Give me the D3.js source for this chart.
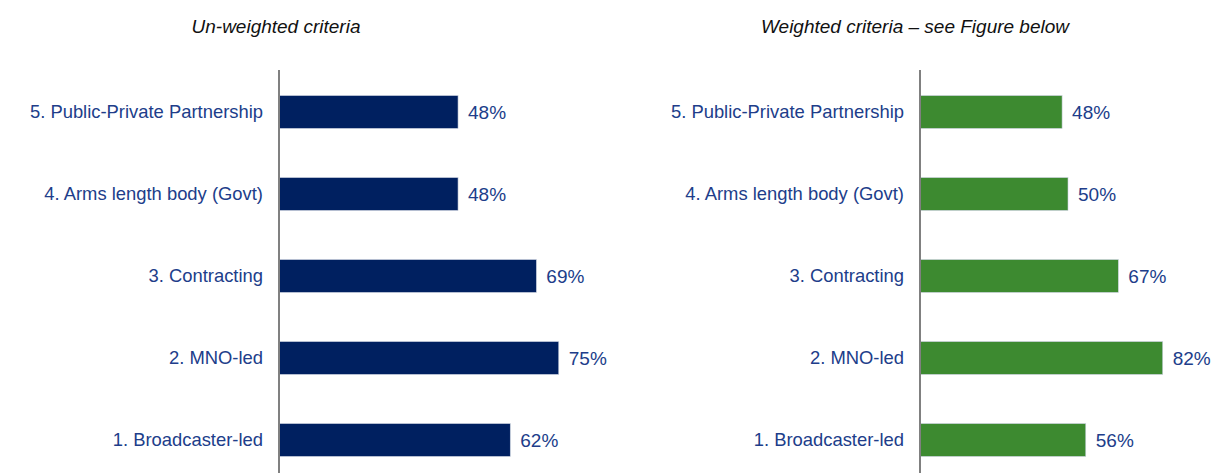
<!DOCTYPE html>
<html>
<head>
<meta charset="utf-8">
<script src="https://cdn.jsdelivr.net/npm/d3@7"></script>
<style>
  body { margin: 0; background: #fff; }
  svg { display: block; font-family: "Liberation Sans", Arial, sans-serif; }
</style>
</head>
<body>
<svg id="main_svg" width="1215" height="473"></svg>
<script>
// categories, top to bottom
var categories = ["5. Public-Private Partnership", "4. Arms length body (Govt)", "3. Contracting", "2. MNO-led", "1. Broadcaster-led"];
var unweighted = [48, 48, 69, 75, 62];
var weighted = [48, 50, 67, 82, 56];
var titles = ["Un-weighted criteria", "Weighted criteria \u2013 see Figure below"];

var svg = d3.select("#main_svg");
var labelColor = "#203d8a";

var y = d3.scaleBand()
  .domain(categories)
  .range([71, 481])
  .paddingInner(0.6)
  .paddingOuter(0.3);

function panel(axisX, pxPerPct, values, color, title, titleX) {
  var g = svg.append("g");
  var x = d3.scaleLinear().domain([0, 100]).range([axisX, axisX + pxPerPct * 100]);

  g.append("text")
    .attr("x", titleX)
    .attr("y", 33)
    .attr("text-anchor", "middle")
    .attr("font-style", "italic")
    .attr("font-size", 19)
    .attr("fill", "#111")
    .text(title);

  var data = categories.map(function(c, i) { return {cat: c, v: values[i]}; });

  g.selectAll("rect")
    .data(data)
    .enter()
    .append("rect")
    .attr("x", x(0))
    .attr("y", function(d) { return y(d.cat); })
    .attr("width", function(d) { return x(d.v) - x(0); })
    .attr("height", y.bandwidth())
    .attr("fill", color)
    .attr("stroke", "#c8d0dc")
    .attr("stroke-width", 0.6);

  g.selectAll("text.val")
    .data(data)
    .enter()
    .append("text")
    .attr("class", "val")
    .attr("x", function(d) { return x(d.v) + 10; })
    .attr("y", function(d) { return y(d.cat) + y.bandwidth() / 2; })
    .attr("dy", "0.35em")
    .attr("font-size", 19)
    .attr("fill", labelColor)
    .text(function(d) { return d.v + "%"; });

  g.selectAll("text.cat")
    .data(data)
    .enter()
    .append("text")
    .attr("class", "cat")
    .attr("x", axisX - 16)
    .attr("y", function(d) { return y(d.cat) + y.bandwidth() / 2; })
    .attr("dy", "0.35em")
    .attr("text-anchor", "end")
    .attr("font-size", 18.4)
    .attr("fill", labelColor)
    .text(function(d) { return d.cat; });

  g.append("line")
    .attr("x1", axisX).attr("x2", axisX)
    .attr("y1", 70).attr("y2", 473)
    .attr("stroke", "#808080")
    .attr("stroke-width", 2);
}

panel(279, 3.73, unweighted, "#002060", titles[0], 276);
panel(920, 2.96, weighted, "#3d8a30", titles[1], 915);
</script>
</body>
</html>
